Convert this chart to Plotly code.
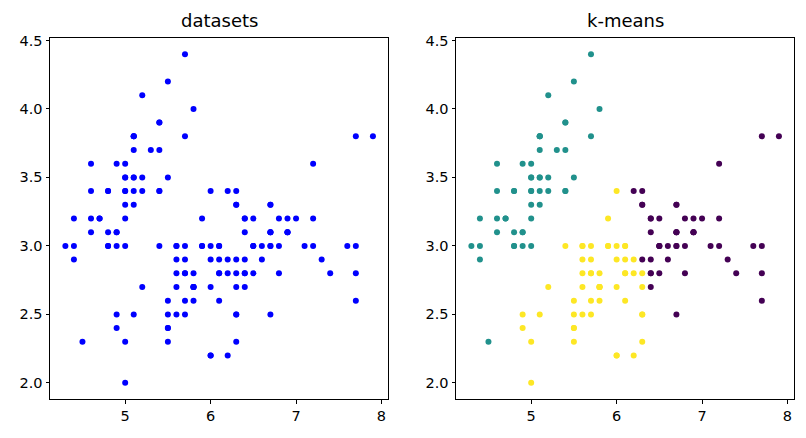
import plotly.graph_objects as go

# Iris sepal length / sepal width
sepal_length = [5.1,4.9,4.7,4.6,5.0,5.4,4.6,5.0,4.4,4.9,5.4,4.8,4.8,4.3,5.8,5.7,5.4,5.1,5.7,5.1,
                5.4,5.1,4.6,5.1,4.8,5.0,5.0,5.2,5.2,4.7,4.8,5.4,5.2,5.5,4.9,5.0,5.5,4.9,4.4,5.1,
                5.0,4.5,4.4,5.0,5.1,4.8,5.1,4.6,5.3,5.0,
                7.0,6.4,6.9,5.5,6.5,5.7,6.3,4.9,6.6,5.2,5.0,5.9,6.0,6.1,5.6,6.7,5.6,5.8,6.2,5.6,
                5.9,6.1,6.3,6.1,6.4,6.6,6.8,6.7,6.0,5.7,5.5,5.5,5.8,6.0,5.4,6.0,6.7,6.3,5.6,5.5,
                5.5,6.1,5.8,5.0,5.6,5.7,5.7,6.2,5.1,5.7,
                6.3,5.8,7.1,6.3,6.5,7.6,4.9,7.3,6.7,7.2,6.5,6.4,6.8,5.7,5.8,6.4,6.5,7.7,7.7,6.0,
                6.9,5.6,7.7,6.3,6.7,7.2,6.2,6.1,6.4,7.2,7.4,7.9,6.4,6.3,6.1,7.7,6.3,6.4,6.0,6.9,
                6.7,6.9,5.8,6.8,6.7,6.7,6.3,6.5,6.2,5.9]
sepal_width = [3.5,3.0,3.2,3.1,3.6,3.9,3.4,3.4,2.9,3.1,3.7,3.4,3.0,3.0,4.0,4.4,3.9,3.5,3.8,3.8,
               3.4,3.7,3.6,3.3,3.4,3.0,3.4,3.5,3.4,3.2,3.1,3.4,4.1,4.2,3.1,3.2,3.5,3.6,3.0,3.4,
               3.5,2.3,3.2,3.5,3.8,3.0,3.8,3.2,3.7,3.3,
               3.2,3.2,3.1,2.3,2.8,2.8,3.3,2.4,2.9,2.7,2.0,3.0,2.2,2.9,2.9,3.1,3.0,2.7,2.2,2.5,
               3.2,2.8,2.5,2.8,2.9,3.0,2.8,3.0,2.9,2.6,2.4,2.4,2.7,2.7,3.0,3.4,3.1,2.3,3.0,2.5,
               2.6,3.0,2.6,2.3,2.7,3.0,2.9,2.9,2.5,2.8,
               3.3,2.7,3.0,2.9,3.0,3.0,2.5,2.9,2.5,3.6,3.2,2.7,3.0,2.5,2.8,3.2,3.0,3.8,2.6,2.2,
               3.2,2.8,2.8,2.7,3.3,3.2,2.8,3.0,2.8,3.0,2.8,3.8,2.8,2.8,2.6,3.0,3.4,3.1,3.0,3.1,
               3.1,3.1,2.7,3.2,3.3,3.0,2.5,3.0,3.4,3.0]
# k-means cluster labels (0 = purple, 1 = teal, 2 = yellow)
kmeans_labels = [1]*50 + [
    0,0,0,2,0,2,0,2,0,2,2,2,2,2,2,0,2,2,2,2,
    2,2,2,2,0,0,0,0,2,2,2,2,2,2,2,2,0,2,2,2,
    2,2,2,2,2,2,2,2,2,2,
    0,2,0,0,0,0,2,0,0,0,0,0,0,2,2,0,0,0,0,2,
    0,2,0,2,0,0,2,2,0,0,0,0,0,2,2,0,0,0,2,0,
    0,0,2,0,0,0,2,0,0,2]
cluster_colors = ["#440154", "#21918c", "#fde725"]
titles = ["datasets", "k-means"]
x_ticks = [5, 6, 7, 8]
y_ticks = [2.0, 2.5, 3.0, 3.5, 4.0, 4.5]

W, H = 806, 438
fig = go.Figure()
fig.add_trace(go.Scatter(x=sepal_length, y=sepal_width, mode="markers",
                         marker=dict(size=6, color="#0000ff", line=dict(width=0)),
                         xaxis="x", yaxis="y", showlegend=False))
fig.add_trace(go.Scatter(x=sepal_length, y=sepal_width, mode="markers",
                         marker=dict(size=6, color=[cluster_colors[k] for k in kmeans_labels],
                                     line=dict(width=0)),
                         xaxis="x2", yaxis="y2", showlegend=False))

ydom = [1 - 399.3 / H, 1 - 37.7 / H]
axis_common = dict(showline=True, mirror=True, linecolor="black", linewidth=1,
                   ticks="outside", ticklen=3.5, tickwidth=1, tickcolor="black",
                   showgrid=False, zeroline=False, automargin=False,
                   tickfont=dict(family="DejaVu Sans", size=14.5, color="black"))
fig.update_layout(
    width=W, height=H, margin=dict(l=0, r=0, t=0, b=0),
    paper_bgcolor="white", plot_bgcolor="white",
    xaxis=dict(domain=[50 / W, 388.3 / W], range=[4.12, 8.08], tickvals=x_ticks,
               ticktext=[str(t) for t in x_ticks], anchor="y", **axis_common),
    yaxis=dict(domain=ydom, range=[1.88, 4.52], tickvals=y_ticks,
               ticktext=[f"{t:.1f}" for t in y_ticks], anchor="x", **axis_common),
    xaxis2=dict(domain=[456 / W, 794.3 / W], range=[4.12, 8.08], tickvals=x_ticks,
                ticktext=[str(t) for t in x_ticks], anchor="y2", **axis_common),
    yaxis2=dict(domain=ydom, range=[1.88, 4.52], tickvals=y_ticks,
                ticktext=[f"{t:.1f}" for t in y_ticks], anchor="x2", **axis_common),
)
centers = [(50 + 388.3) / 2 / W, (456 + 794.3) / 2 / W]
for c, t in zip(centers, titles):
    fig.add_annotation(x=c, y=1 - 20.5 / H, xref="paper", yref="paper", text=t,
                       showarrow=False, xanchor="center", yanchor="middle",
                       font=dict(family="DejaVu Sans", size=18, color="black"))
fig.write_html("out.html", config={"displayModeBar": False},
               post_script="document.body.style.margin='0';")
